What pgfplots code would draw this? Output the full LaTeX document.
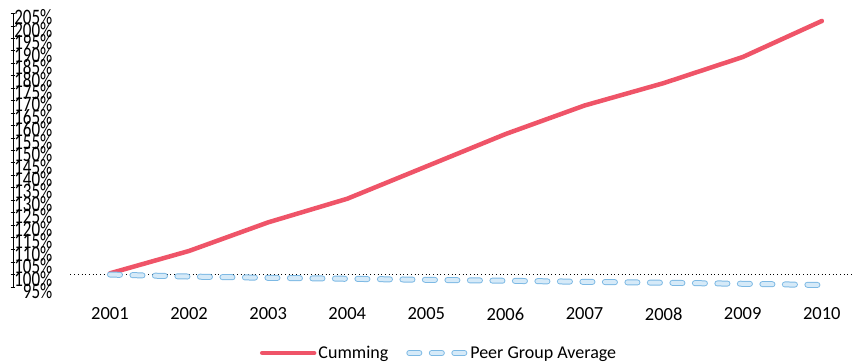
\documentclass[border=0pt]{standalone}
\usepackage{pgfplots}
\pgfplotsset{compat=1.18}
\usepackage{graphicx}
\usepackage{fontspec}
\setmainfont{Carlito}
\definecolor{cumred}{RGB}{239,84,104}
\definecolor{peerfill}{RGB}{214,234,248}
\definecolor{peerline}{RGB}{125,185,228}
\begin{document}
\begin{tikzpicture}
\path[use as bounding box] (0,0) rectangle (860bp,363bp);
\begin{axis}[
  at={(13bp,76bp)}, anchor=south west,
  scale only axis, width=847bp, height=273.5bp,
  xmin=1999.774, xmax=2010.482,
  ymin=95, ymax=205,
  clip=false,
  axis lines*=left,
  axis line style={-},
  x axis line style={draw=none},
  y axis line style={black, line width=0.6bp},
  xtick={2001,...,2010},
  xticklabels={2001,2002,2003,2004,2005,2006,2007,2008,2009,2010},
  xtick style={draw=none},
  xticklabel style={anchor=center, yshift=-24.5bp, inner sep=0pt, font=\fontsize{18.5bp}{20bp}\selectfont},
  ytick={95,100,...,205},
  yticklabel={\scalebox{1}[1.3]{\pgfmathprintnumber{\tick}\%}},
  yticklabel style={anchor=east, inner sep=0pt, xshift=42bp, yshift=-4bp, font=\fontsize{17bp}{18bp}\selectfont},
  ytick style={black, line width=0.6bp},
  tick align=center,
  major tick length=5bp,
  /pgf/number format/assume math mode=true,
  legend columns=2,
  legend style={at={(0.503,-0.2413)}, anchor=center, draw=none, fill=none,
    font=\fontsize{18bp}{20bp}\selectfont, inner sep=0pt,
    /tikz/every even column/.append style={column sep=16bp}},
  legend cell align=left,
]
\addplot[black, line width=0.7bp, dash pattern=on 0.7bp off 3bp, forget plot]
  coordinates {(2000.5,100) (2010.4,100)};
\addplot[cumred, line width=4.5bp, line cap=round, line join=round,
  legend image code/.code={\draw[cumred, line width=4.5bp, line cap=round] (0bp,0bp) -- (52bp,0bp);}]
  coordinates {
  (2001,100.5) (2002,109.5) (2003,121) (2004,130.5) (2005,143.5)
  (2006,156.5) (2007,168) (2008,177) (2009,187.5) (2010,202)};
\addlegendentry{Cumming}
\addplot[peerline, line width=1bp, double=peerfill, double distance=4bp, line cap=round,
  dash pattern=on 10bp off 12.5bp,
  legend image code/.code={\draw[peerline, line width=1bp, double=peerfill, double distance=4bp, line cap=round, dash pattern=on 10bp off 12.5bp] (3bp,0bp) -- (59bp,0bp);}]
  coordinates {
  (2001,100) (2002,99.2) (2003,98.7) (2004,98.3) (2005,97.9)
  (2006,97.5) (2007,97.1) (2008,96.7) (2009,96.3) (2010,95.8)};
\addlegendentry{Peer Group Average}
\end{axis}
\end{tikzpicture}
\end{document}
